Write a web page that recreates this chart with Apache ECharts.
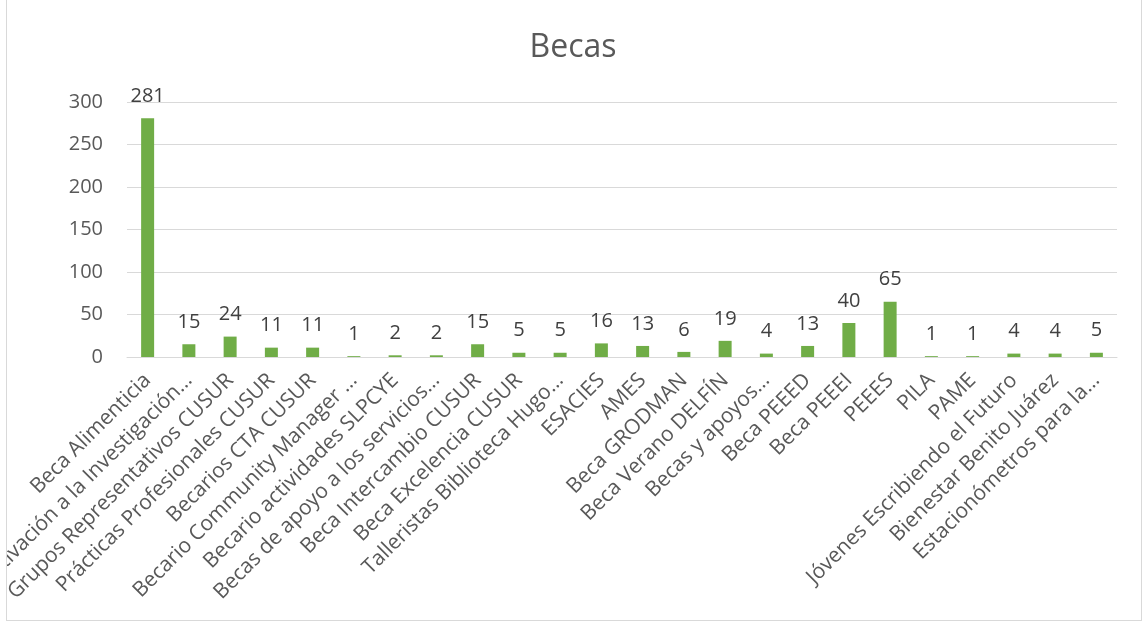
<!DOCTYPE html>
<html><head><meta charset="utf-8">
<script src="https://cdn.jsdelivr.net/npm/echarts@6/dist/echarts.min.js"></script>
<style>
html,body{margin:0;padding:0;background:#fff;width:1146px;height:625px;overflow:hidden;}
#frame{position:absolute;left:6px;top:-1px;width:1134px;height:620px;border:1px solid #d9d9d9;overflow:hidden;background:#fff;}
#c{position:absolute;left:-7px;top:0;width:1146px;height:625px;}
</style></head>
<body>
<div id="frame"><div id="c"></div></div>
<script>
const categories = ["Beca Alimenticia","Motivación a la Investigación…","Grupos Representativos CUSUR","Prácticas Profesionales CUSUR","Becarios CTA CUSUR","Becario Community Manager …","Becario actividades SLPCYE","Becas de apoyo a los servicios…","Beca Intercambio CUSUR","Beca Excelencia CUSUR","Talleristas Biblioteca Hugo…","ESACIES","AMES","Beca GRODMAN","Beca Verano DELFÍN","Becas y apoyos…","Beca PEEED","Beca PEEEI","PEEES","PILA","PAME","Jóvenes Escribiendo el Futuro","Bienestar Benito Juárez","Estacionómetros para la…"];
const values = [281,15,24,11,11,1,2,2,15,5,5,16,13,6,19,4,13,40,65,1,1,4,4,5];
const yTicks = [0,50,100,150,200,250,300];
const title = "Becas";

const chart = echarts.init(document.getElementById('c'));
chart.setOption({
  animation:false,
  title:{text:title,left:'center',top:27,textStyle:{fontFamily:'Open Sans',fontSize:32,fontWeight:'normal',color:'#595959'}},
  grid:{left:127,right:29,top:102,bottom:268,containLabel:false,outerBoundsMode:'none'},
  xAxis:{type:'category',data:categories,
    axisLine:{show:true,lineStyle:{color:'#d9d9d9'}},axisTick:{show:false},
    axisLabel:{rotate:45,interval:0,margin:20,fontFamily:'Open Sans',fontSize:21,color:'#595959'}},
  yAxis:{type:'value',min:yTicks[0],max:yTicks[yTicks.length-1],interval:50,
    axisLine:{show:false},axisTick:{show:false},
    splitLine:{lineStyle:{color:'#d9d9d9',width:1}},
    axisLabel:{margin:24,fontFamily:'Open Sans',fontSize:20,color:'#595959'}},
  series:[{type:'bar',data:values,barWidth:13,itemStyle:{color:'#70ad47'},
    label:{show:true,position:'top',distance:12,fontFamily:'Open Sans',fontSize:20,color:'#404040'}}]
});
</script>
</body></html>
